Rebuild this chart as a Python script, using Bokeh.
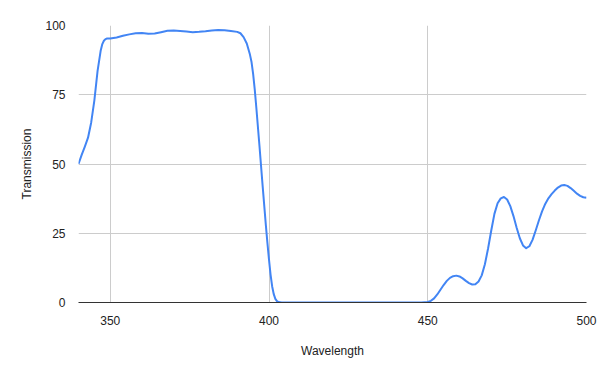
from bokeh.plotting import figure
from bokeh.models import Range1d, FixedTicker
from bokeh.embed import file_html
from bokeh.resources import INLINE

wavelength = [340, 341, 342, 343, 344, 345, 346, 347, 347.5, 348, 348.5, 349, 350, 352, 354,
              356, 358, 360, 362, 364, 366, 368, 370, 372, 374, 376, 378, 380, 382, 384,
              386, 388, 390, 391, 392, 393, 394, 394.5, 395, 395.5, 396, 397, 398, 399, 399.5,
              400, 400.5, 401, 401.5, 402, 402.5, 403, 404, 410, 420, 430, 440, 448,
              450, 451, 452, 453, 454, 455, 456, 457, 458, 459, 460, 461, 462, 463, 464,
              465, 466, 467, 468, 469, 470, 471, 472, 473, 474, 475, 476, 477, 478, 479,
              480, 481, 482, 483, 484, 485, 486, 487, 488, 489, 490, 491, 492, 493, 494,
              495, 496, 497, 498, 499, 500]
transmission = [50, 53.3, 56.3, 59.5, 65, 73, 83.5, 91, 93.3, 94.5, 95.1, 95.3, 95.3, 95.7, 96.3,
                96.8, 97.2, 97.3, 97.0, 97.1, 97.6, 98.1, 98.2, 98.0, 97.8, 97.6, 97.7, 97.9, 98.2, 98.4,
                98.3, 98.0, 97.7, 97.2, 95.8, 93.5, 89.5, 86.8, 82.5, 77, 70.5, 56.5, 42, 28, 21.5,
                15.5, 10, 5.8, 3, 1.3, 0.5, 0.15, 0, 0, 0, 0, 0, 0,
                0.2, 0.6, 1.5, 2.9, 4.6, 6.3, 7.8, 8.9, 9.5, 9.7, 9.4, 8.7, 7.8, 7.0, 6.5,
                6.6, 7.6, 9.8, 13.8, 19.5, 26, 32, 35.8, 37.6, 38.1, 37.2, 34.8, 31.2, 27, 23.2,
                20.6, 19.6, 20.3, 22.6, 26, 29.6, 32.9, 35.6, 37.6, 39.1, 40.4, 41.5, 42.2, 42.4, 42.1,
                41.3, 40.3, 39.3, 38.5, 38, 37.8]
x_ticks = [350, 400, 450, 500]
y_ticks = [0, 25, 50, 75, 100]

p = figure(width=605, height=374, output_backend="svg", toolbar_location=None,
           x_range=Range1d(340, 500), y_range=Range1d(0, 100),
           min_border_left=78, min_border_right=19, min_border_top=25, min_border_bottom=72)
p.outline_line_color = None
p.background_fill_color = "white"
p.border_fill_color = "white"

p.line(wavelength, transmission, line_color="#4285F4", line_width=2, line_join="round")

p.xaxis.ticker = FixedTicker(ticks=x_ticks)
p.yaxis.ticker = FixedTicker(ticks=y_ticks)
for ax in (p.xaxis, p.yaxis):
    ax.major_tick_line_color = None
    ax.minor_tick_line_color = None
    ax.major_label_text_font = "Liberation Sans"
    ax.major_label_text_font_size = "12px"
    ax.major_label_text_color = "#222222"
    ax.axis_label_text_font = "Liberation Sans"
    ax.axis_label_text_font_size = "12px"
    ax.axis_label_text_font_style = "normal"
    ax.axis_label_text_color = "#222222"
p.yaxis.axis_line_color = None
p.xaxis.axis_line_color = "#333333"
p.xaxis.axis_line_width = 1
p.xaxis.axis_label = "Wavelength"
p.yaxis.axis_label = "Transmission"
p.xaxis.major_label_standoff = 7
p.yaxis.major_label_standoff = 7
p.xaxis.axis_label_standoff = 16
p.yaxis.axis_label_standoff = 8

p.grid.grid_line_color = "#cccccc"
p.grid.grid_line_width = 1
p.xgrid.ticker = FixedTicker(ticks=x_ticks)
p.ygrid.ticker = FixedTicker(ticks=[25, 50, 75, 100])

open("out.html", "w").write(file_html(p, INLINE))
